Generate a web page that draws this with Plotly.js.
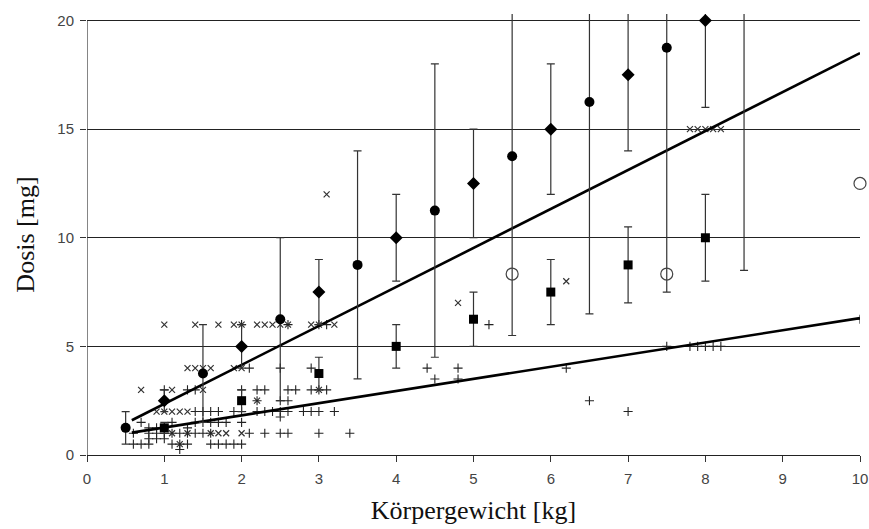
<!DOCTYPE html>
<html>
<head>
<meta charset="utf-8">
<script src="https://cdn.plot.ly/plotly-3.0.1.min.js"></script>
<style>html,body{margin:0;padding:0;background:#fff;}#chart{width:869px;height:529px;}</style>
</head>
<body>
<div id="chart"></div>
<script>
// Filled circles (with error ranges)
var circX  = [0.5, 1.5, 2.5, 3.5, 4.5, 5.5, 6.5, 7.5, 8.5];
var circY  = [1.25, 3.75, 6.25, 8.75, 11.25, 13.75, 16.25, 18.75, 21.25];
var circLo = [0.5, 1.5, 2.5, 3.5, 4.5, 5.5, 6.5, 7.5, 8.5];
var circHi = [2, 6, 10, 14, 18, 22, 26, 30, 34];

// Diamonds
var diaX  = [1, 2, 3, 4, 5, 6, 7, 8];
var diaY  = [2.5, 5, 7.5, 10, 12.5, 15, 17.5, 20];
var diaLo = [2, 4, 6, 8, 10, 12, 14, 16];
var diaHi = [3, 6, 9, 12, 15, 18, 21, 24];

// Squares
var sqX  = [1, 2, 3, 4, 5, 6, 7, 8];
var sqY  = [1.25, 2.5, 3.75, 5, 6.25, 7.5, 8.75, 10];
var sqLo = [1, 2, 3, 4, 5, 6, 7, 8];
var sqHi = [1.5, 3, 4.5, 6, 7.5, 9, 10.5, 12];

// Open circles
var openX = [5.5, 7.5, 10];
var openY = [8.33, 8.33, 12.5];

// "x" observations
var crossX = [1.0,1.4,1.7,1.9,2.0,2.2,2.3,2.4,2.5,2.6,2.9,3.0,3.2,
              1.3,1.4,1.5,1.6,1.9,2.0,
              0.7,1.1,1.5,3.0,
              2.2,
              0.9,1.0,1.1,1.2,1.3,
              1.1,1.3,1.6,1.7,1.8,2.0,
              1.2,
              3.1,4.8,6.2,7.8,7.9,8.0,8.1,8.2];
var crossY = [6,6,6,6,6,6,6,6,6,6,6,6,6,
              4,4,4,4,4,4,
              3,3,3,3,
              2.5,
              2,2,2,2,2,
              1,1,1,1,1,1,
              0.5,
              12,7,8,15,15,15,15,15];

// "+" observations
var plusX = [2.0,2.6,3.0,3.1,5.2,
             2.1,2.5,2.9,4.4,4.8,6.2,
             4.5,4.8,
             1.0,1.3,1.4,2.0,2.2,2.3,2.6,2.7,2.9,3.0,3.1,
             2.2,2.5,2.6,6.5,
             1.4,1.5,1.6,1.7,1.9,2.0,2.2,2.3,2.4,2.5,2.6,2.8,2.9,3.0,3.2,
             2.5,
             0.7,1.1,1.4,1.5,1.6,1.7,1.8,2.0,
             0.8,0.9,1.3,
             0.6,0.8,0.9,1.0,1.1,1.2,1.3,1.4,1.5,1.6,2.1,2.3,2.5,2.6,3.0,3.4,
             0.8,0.9,1.0,
             0.6,0.7,0.8,1.1,1.2,1.3,1.6,1.7,1.8,1.9,2.0,
             1.2,
             7.5,7.8,7.9,8.0,8.1,8.2,
             7.0,10.0];
var plusY = [6,6,6,6,6,
             4,4,4,4,4,4,
             3.5,3.5,
             3,3,3,3,3,3,3,3,3,3,3,
             2.5,2.5,2.5,2.5,
             2,2,2,2,2,2,2,2,2,2,2,2,2,2,2,
             1.75,
             1.5,1.5,1.5,1.5,1.5,1.5,1.5,1.5,
             1.25,1.25,1.25,
             1,1,1,1,1,1,1,1,1,1,1,1,1,1,1,1,
             0.75,0.75,0.75,
             0.5,0.5,0.5,0.5,0.5,0.5,0.5,0.5,0.5,0.5,0.5,
             0.25,
             5,5,5,5,5,5,
             2,6.25];

// Regression lines (end points)
var regAX = [0.58, 10];
var regAY = [1.6, 18.5];
var regBX = [0.58, 10];
var regBY = [1.03, 6.3];

function plusErr(y, hi){ return y.map(function(v,i){ return hi[i]-v; }); }
function minusErr(y, lo){ return y.map(function(v,i){ return v-lo[i]; }); }

var errStyle = {color:'#333', thickness:1.2, width:4};

var traces = [
  {x:crossX, y:crossY, type:'scatter', mode:'markers', name:'x',
   marker:{symbol:'x-thin-open', size:6, color:'#333', line:{width:1.2, color:'#333'}}},
  {x:plusX, y:plusY, type:'scatter', mode:'markers', name:'+',
   marker:{symbol:'cross-thin-open', size:6.5, color:'#222', line:{width:1.1, color:'#222'}}},
  {x:regAX, y:regAY, type:'scatter', mode:'lines', name:'Reg A',
   line:{color:'#000', width:2.6}},
  {x:regBX, y:regBY, type:'scatter', mode:'lines', name:'Reg B',
   line:{color:'#000', width:2.6}},
  {x:circX, y:circY, type:'scatter', mode:'markers', name:'circle',
   marker:{symbol:'circle', size:10, color:'#000'},
   error_y:Object.assign({type:'data', symmetric:false, array:plusErr(circY,circHi), arrayminus:minusErr(circY,circLo)}, errStyle)},
  {x:diaX, y:diaY, type:'scatter', mode:'markers', name:'diamond',
   marker:{symbol:'diamond', size:10, color:'#000'},
   error_y:Object.assign({type:'data', symmetric:false, array:plusErr(diaY,diaHi), arrayminus:minusErr(diaY,diaLo)}, errStyle)},
  {x:sqX, y:sqY, type:'scatter', mode:'markers', name:'square',
   marker:{symbol:'square', size:9, color:'#000'},
   error_y:Object.assign({type:'data', symmetric:false, array:plusErr(sqY,sqHi), arrayminus:minusErr(sqY,sqLo)}, errStyle)},
  {x:openX, y:openY, type:'scatter', mode:'markers', name:'open', cliponaxis:false,
   marker:{symbol:'circle-open', size:12, color:'#444', line:{width:1.2, color:'#444'}}}
];

var layout = {
  width:869, height:529,
  margin:{l:87, r:9, t:13.5, b:74, pad:0},
  paper_bgcolor:'#fff', plot_bgcolor:'#fff',
  showlegend:false,
  xaxis:{
    range:[0,10], tickvals:[0,1,2,3,4,5,6,7,8,9,10],
    ticks:'outside', ticklen:6, tickcolor:'#333', tickwidth:1,
    ticklabelstandoff:4,
    showgrid:false, zeroline:false,
    showline:true, linecolor:'#222', linewidth:1.2,
    tickfont:{family:'Liberation Sans, Arial, sans-serif', size:15, color:'#444'},
    title:{text:'Körpergewicht [kg]', standoff:14,
           font:{family:'Liberation Serif, Times New Roman, serif', size:26, color:'#111'}}
  },
  yaxis:{
    range:[0,20.3], tickvals:[0,5,10,15,20],
    ticks:'outside', ticklen:6, tickcolor:'#333', tickwidth:1,
    ticklabelstandoff:3,
    showgrid:true, gridcolor:'#222', gridwidth:1,
    zeroline:false, showline:false,
    tickfont:{family:'Liberation Sans, Arial, sans-serif', size:15, color:'#444'},
    title:{text:'Dosis [mg]', standoff:15,
           font:{family:'Liberation Serif, Times New Roman, serif', size:26, color:'#111'}}
  },
  shapes:[
    {type:'line', xref:'x', yref:'y', x0:0, x1:0, y0:0, y1:20, line:{color:'#333', width:1.2}}
  ]
};

Plotly.newPlot('chart', traces, layout, {displayModeBar:false, staticPlot:true});
</script>
</body>
</html>
